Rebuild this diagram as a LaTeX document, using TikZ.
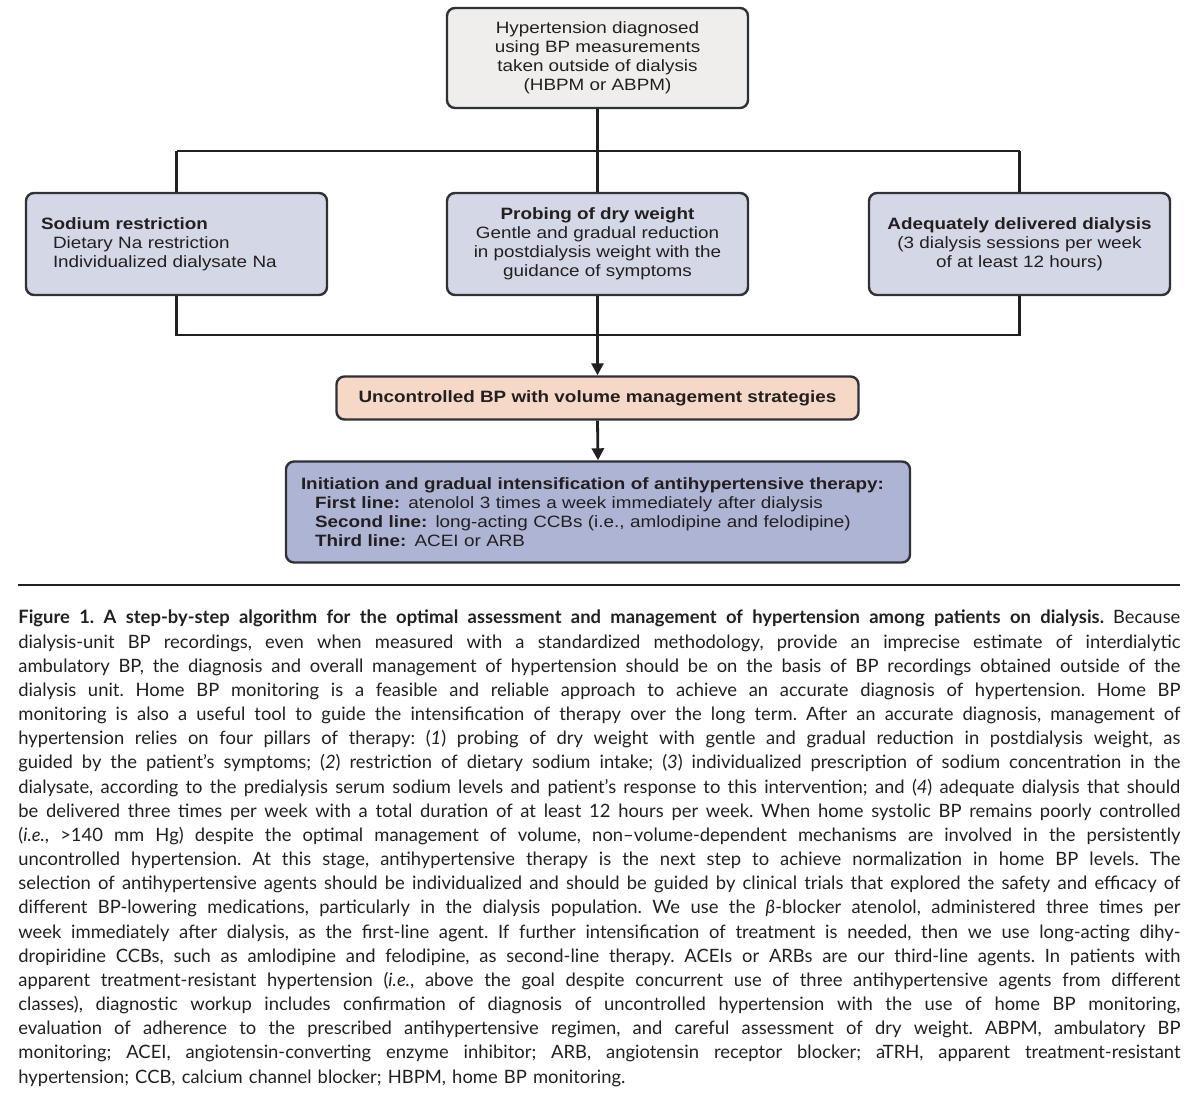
\documentclass[tikz,border=0pt]{standalone}
\usepackage{fontspec}
\setmainfont{Liberation Sans}[FakeStretch=1.15]
\newfontfamily\capfont{Lato}
\usetikzlibrary{arrows.meta}

\definecolor{inkc}{HTML}{231F20}
\definecolor{edgec}{HTML}{2E3136}
\definecolor{greyfill}{HTML}{EFEEEC}
\definecolor{pillfill}{HTML}{D4D7E6}
\definecolor{peachfill}{HTML}{F5D8C5}
\definecolor{therfill}{HTML}{AEB4D3}

\tikzset{
  stagebox/.style={draw=edgec, line width=1.2pt, rounded corners=4pt, inner sep=0pt,
    font=\fontsize{8.2}{9.5}\selectfont, text=inkc},
  link/.style={draw=inkc, line width=1.4pt},
  linkarrow/.style={link, -{Triangle[width=6pt,length=6pt]}},
  capline/.style={anchor=base west, inner sep=0pt, text=inkc}
}

\newcommand{\capl}[1]{\hbox to 581pt{\frenchspacing\spaceskip=0.2em plus 1fil\xspaceskip=\spaceskip #1}}

\begin{document}
\begin{tikzpicture}[x=0.5pt,y=-0.5pt]
    \useasboundingbox (0,0) rectangle (1200,1095);

    % diagnosis
    \node[stagebox, fill=greyfill, minimum width=150.5pt, minimum height=50pt, align=center] (diag) at (597.5, 58) {Hypertension diagnosed\\using BP measurements\\taken outside of dialysis\\(HBPM or ABPM)};

    % three pillars
    \coordinate (splitL) at (176.5, 151);   \coordinate (splitR) at (1019.5, 151);
    \coordinate (joinL) at (176.5, 335);    \coordinate (joinR) at (1019.5, 335);
    \node[stagebox, fill=pillfill, minimum width=150.5pt, minimum height=51pt, text width=135.5pt, align=left] (sodium) at (176.5, 244) {\textbf{Sodium restriction}\\\hspace*{6pt}Dietary Na restriction\\\hspace*{6pt}Individualized dialysate Na};
    \node[stagebox, fill=pillfill, minimum width=150.5pt, minimum height=51pt, align=center] (dryweight) at (597.5, 244) {\textbf{Probing of dry weight}\\Gentle and gradual reduction\\in postdialysis weight with the\\guidance of symptoms};
    \node[stagebox, fill=pillfill, minimum width=150.5pt, minimum height=51pt, align=center] (dialysis) at (1019.5, 244) {\textbf{Adequately delivered dialysis}\\(3 dialysis sessions per week\\of at least 12 hours)};

    \draw[link] (diag.south) -- (diag.south |- splitL);
    \draw[link] (splitL) -- (splitR);
    \draw[link] (splitL) -- (sodium.north);
    \draw[link] (diag.south |- splitL) -- (dryweight.north);
    \draw[link] (splitR) -- (dialysis.north);
    \draw[link] (sodium.south) -- (joinL) -- (joinR) -- (dialysis.south);

    % uncontrolled BP
    \node[stagebox, fill=peachfill, minimum width=261pt, minimum height=21.5pt] (uncontrolled) at (597.5, 398) {\textbf{Uncontrolled BP with volume management strategies}};
    \draw[linkarrow] (dryweight.south) -- (uncontrolled.north);

    % drug therapy
    \node[stagebox, fill=therfill, minimum width=312pt, minimum height=50.5pt, text width=297pt, align=left] (therapy) at (598, 512) {\textbf{Initiation and gradual intensification of antihypertensive therapy:}\\\hspace*{7pt}\textbf{First line:} atenolol 3 times a week immediately after dialysis\\\hspace*{7pt}\textbf{Second line:} long-acting CCBs (i.e., amlodipine and felodipine)\\\hspace*{7pt}\textbf{Third line:} ACEI or ARB};
    \draw[linkarrow] (uncontrolled.south) -- (therapy.north);

    % caption
    \coordinate (ruleL) at (18, 585);   \coordinate (ruleR) at (1180, 585);
    \draw[draw=inkc, line width=1pt] (ruleL) -- (ruleR);
    \node[capline, text width=581pt, font=\capfont\fontsize{9.2}{12.08}\selectfont] (caption) at (18, 624) {%
\capl{\textbf{Figure 1. A step-by-step algorithm for the optimal assessment and management of hypertension among patients on dialysis.} Because}\par
\capl{dialysis-unit BP recordings, even when measured with a standardized methodology, provide an imprecise estimate of interdialytic}\par
\capl{ambulatory BP, the diagnosis and overall management of hypertension should be on the basis of BP recordings obtained outside of the}\par
\capl{dialysis unit. Home BP monitoring is a feasible and reliable approach to achieve an accurate diagnosis of hypertension. Home BP}\par
\capl{monitoring is also a useful tool to guide the intensification of therapy over the long term. After an accurate diagnosis, management of}\par
\capl{hypertension relies on four pillars of therapy: (\textit{1}) probing of dry weight with gentle and gradual reduction in postdialysis weight, as}\par
\capl{guided by the patient’s symptoms; (\textit{2}) restriction of dietary sodium intake; (\textit{3}) individualized prescription of sodium concentration in the}\par
\capl{dialysate, according to the predialysis serum sodium levels and patient’s response to this intervention; and (\textit{4}) adequate dialysis that should}\par
\capl{be delivered three times per week with a total duration of at least 12 hours per week. When home systolic BP remains poorly controlled}\par
\capl{(\textit{i.e.}, >140 mm Hg) despite the optimal management of volume, non–volume-dependent mechanisms are involved in the persistently}\par
\capl{uncontrolled hypertension. At this stage, antihypertensive therapy is the next step to achieve normalization in home BP levels. The}\par
\capl{selection of antihypertensive agents should be individualized and should be guided by clinical trials that explored the safety and efficacy of}\par
\capl{different BP-lowering medications, particularly in the dialysis population. We use the \textit{β}-blocker atenolol, administered three times per}\par
\capl{week immediately after dialysis, as the first-line agent. If further intensification of treatment is needed, then we use long-acting dihy-}\par
\capl{dropiridine CCBs, such as amlodipine and felodipine, as second-line therapy. ACEIs or ARBs are our third-line agents. In patients with}\par
\capl{apparent treatment-resistant hypertension (\textit{i.e.}, above the goal despite concurrent use of three antihypertensive agents from different}\par
\capl{classes), diagnostic workup includes confirmation of diagnosis of uncontrolled hypertension with the use of home BP monitoring,}\par
\capl{evaluation of adherence to the prescribed antihypertensive regimen, and careful assessment of dry weight. ABPM, ambulatory BP}\par
\capl{monitoring; ACEI, angiotensin-converting enzyme inhibitor; ARB, angiotensin receptor blocker; aTRH, apparent treatment-resistant}\par
hypertension; CCB, calcium channel blocker; HBPM, home BP monitoring.};
\end{tikzpicture}
\end{document}
